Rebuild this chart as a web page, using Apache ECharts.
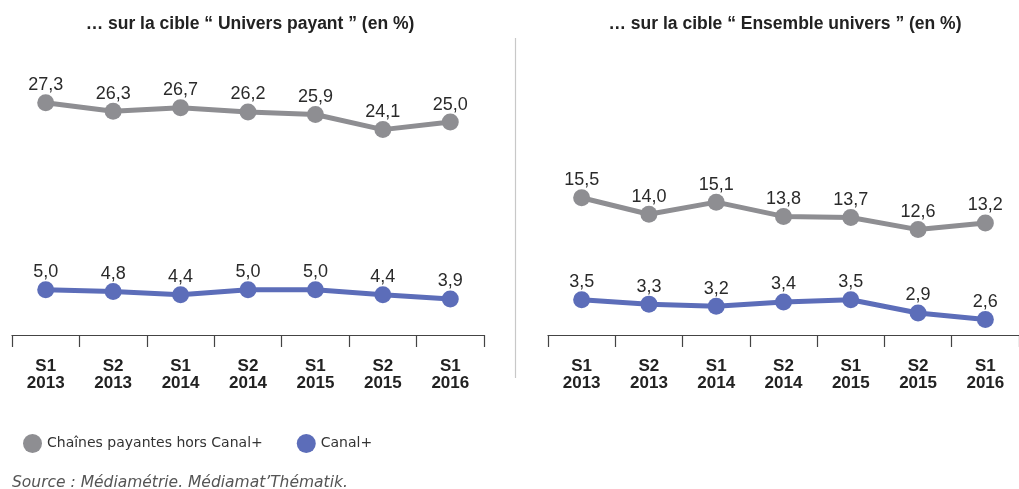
<!DOCTYPE html>
<html>
<head>
<meta charset="utf-8">
<script src="https://cdn.jsdelivr.net/npm/echarts@6/dist/echarts.min.js"></script>
<style>
  html, body { margin: 0; padding: 0; background: #fff; }
  #main { width: 1019px; height: 489px; }
</style>
</head>
<body>
<div id="main"></div>
<script>
// semestres
var categories = ['S1\n2013', 'S2\n2013', 'S1\n2014', 'S2\n2014', 'S1\n2015', 'S2\n2015', 'S1\n2016'];
// cible "Univers payant"
var payantesUnivers = [27.3, 26.3, 26.7, 26.2, 25.9, 24.1, 25.0];
var canalUnivers = [5.0, 4.8, 4.4, 5.0, 5.0, 4.4, 3.9];
// cible "Ensemble univers"
var payantesEnsemble = [15.5, 14.0, 15.1, 13.8, 13.7, 12.6, 13.2];
var canalEnsemble = [3.5, 3.3, 3.2, 3.4, 3.5, 2.9, 2.6];

var GRAY = '#8e8e92';
var BLUE = '#5c6db9';
var FONT = '"Liberation Sans", Arial, sans-serif';
var WIDE = '"DejaVu Sans", sans-serif';

var myChart = echarts.init(document.getElementById('main'));

function xAxisFor(idx) {
    return {
        type: 'category',
        gridIndex: idx,
        data: categories,
        boundaryGap: true,
        axisLine: { onZero: false, lineStyle: { color: '#444', width: 1.2 } },
        axisTick: { show: true, length: 12, lineStyle: { color: '#444', width: 1.2 } },
        axisLabel: {
            margin: 23,
            fontFamily: FONT,
            fontSize: 17,
            fontWeight: 'bold',
            lineHeight: 17,
            color: '#222'
        },
        splitLine: { show: false }
    };
}

function yAxisFor(idx, min, max) {
    return { type: 'value', gridIndex: idx, min: min, max: max, show: false, splitLine: { show: false } };
}

function lineSeries(name, color, xi, yi, data) {
    return {
        name: name,
        type: 'line',
        xAxisIndex: xi,
        yAxisIndex: yi,
        data: data,
        symbol: 'circle',
        symbolSize: 17,
        lineStyle: { color: color, width: 5 },
        itemStyle: { color: color },
        label: {
            show: true,
            position: 'top',
            distance: 0,
            fontFamily: FONT,
            fontSize: 18,
            color: '#2a2a2a',
            formatter: function (p) { return p.value.toFixed(1).replace('.', ','); }
        },
        emphasis: { disabled: true }
    };
}

myChart.setOption({
    animation: false,
    title: [
        { text: '… sur la cible “ Univers payant ” (en %)', left: 245, top: 10, textAlign: 'center',
          textStyle: { fontFamily: FONT, fontSize: 17.5, fontWeight: 'bold', color: '#222' } },
        { text: '… sur la cible “ Ensemble univers ” (en %)', left: 780, top: 10, textAlign: 'center',
          textStyle: { fontFamily: FONT, fontSize: 17.5, fontWeight: 'bold', color: '#222' } }
    ],
    legend: {
        left: 18,
        top: 429,
        icon: 'circle',
        itemWidth: 19,
        itemHeight: 19,
        itemGap: 34,
        data: ['Chaînes payantes hors Canal+', 'Canal+'],
        textStyle: { fontFamily: WIDE, fontSize: 14, color: '#333' }
    },
    grid: [
        { left: 12, top: 55, width: 472, height: 280 },
        { left: 548, top: 55, width: 471, height: 280 }
    ],
    xAxis: [xAxisFor(0), xAxisFor(1)],
    yAxis: [
        yAxisFor(0, -0.4, 33),
        yAxisFor(1, 3, 28.5),
        yAxisFor(1, 1.9, 14.6)
    ],
    series: [
        lineSeries('Chaînes payantes hors Canal+', GRAY, 0, 0, payantesUnivers),
        lineSeries('Canal+', BLUE, 0, 0, canalUnivers),
        lineSeries('Chaînes payantes hors Canal+', GRAY, 1, 1, payantesEnsemble),
        lineSeries('Canal+', BLUE, 1, 2, canalEnsemble)
    ],
    graphic: [
        { type: 'line', shape: { x1: 515.5, y1: 38, x2: 515.5, y2: 378 },
          style: { stroke: '#c8c8c8', lineWidth: 1.2 } },
        { type: 'text', left: 12, top: 475,
          style: { text: 'Source : Médiamétrie. Médiamat’Thématik.', fontFamily: WIDE,
                   fontSize: 15.5, fontStyle: 'italic', fill: '#555' } }
    ]
});
</script>
</body>
</html>
